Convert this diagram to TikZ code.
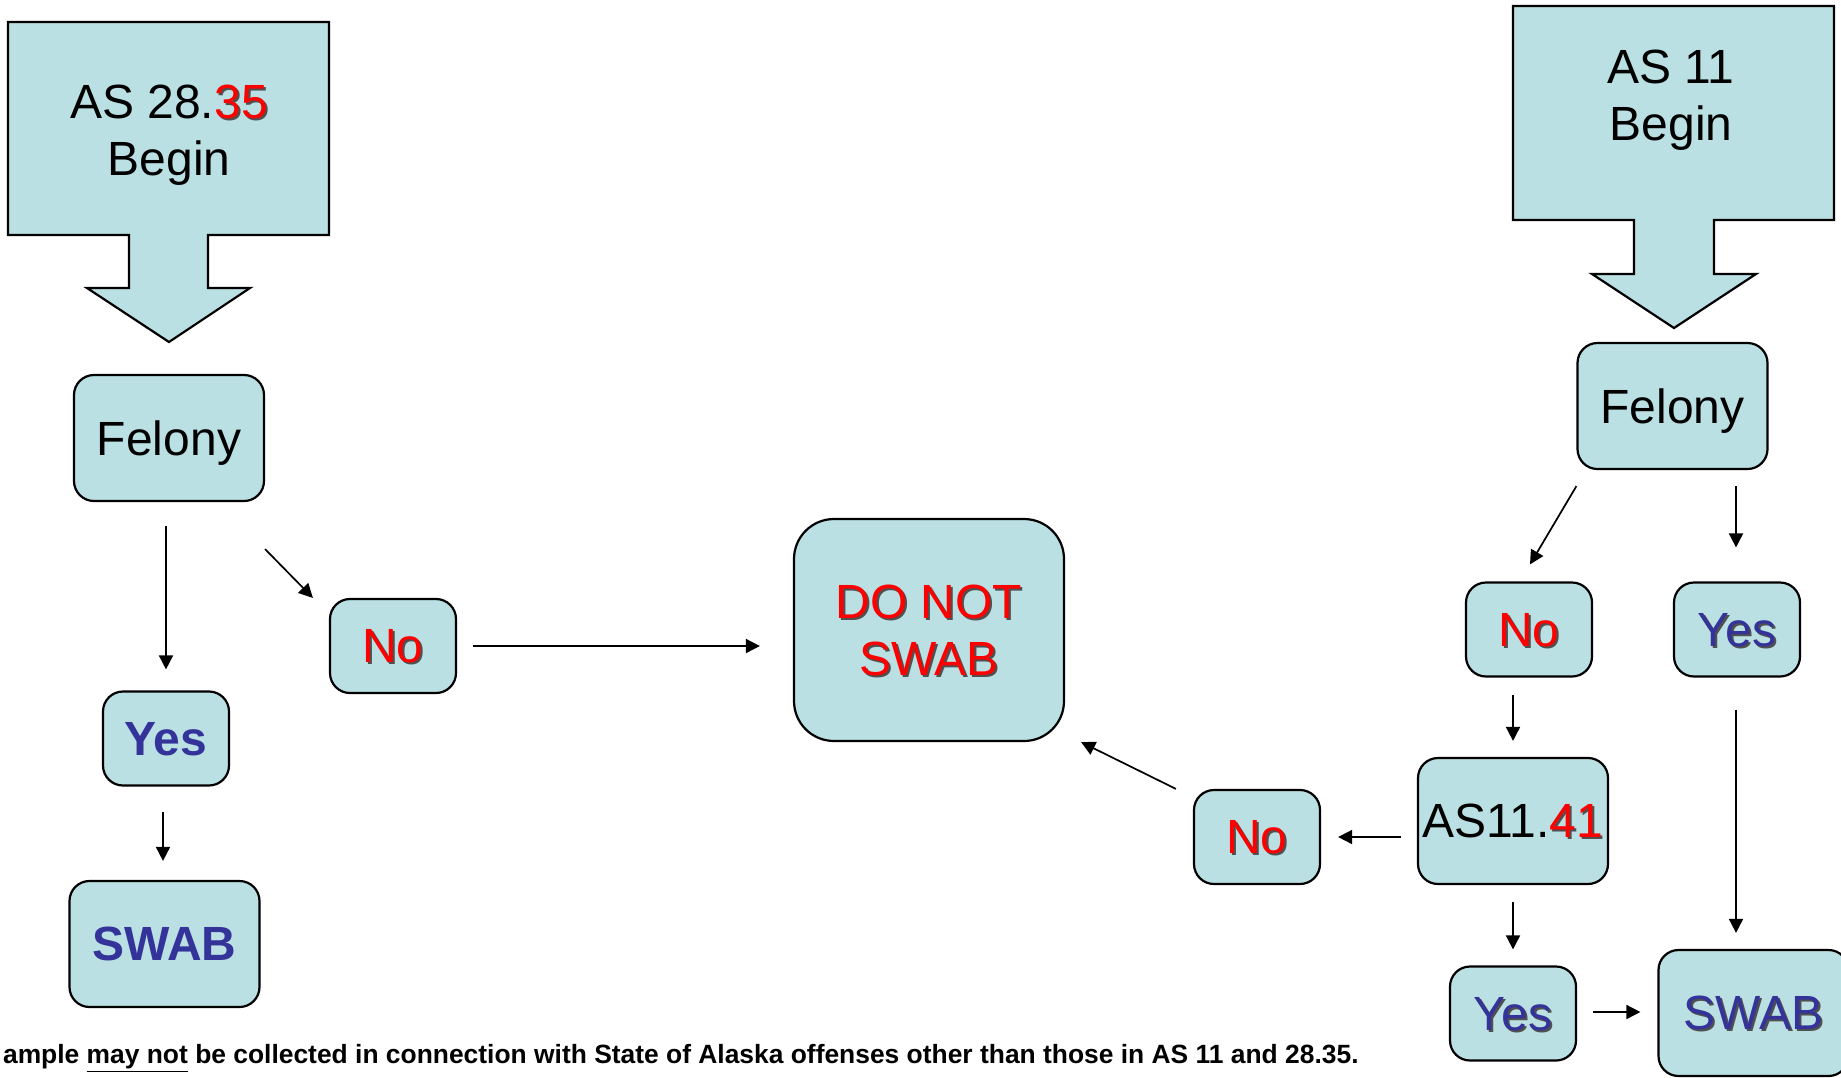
\documentclass[tikz,border=0pt]{standalone}
\usepackage{fontspec}
\setmainfont{Liberation Sans}
\usetikzlibrary{arrows.meta}

\definecolor{boxfill}{RGB}{186,224,227}
\definecolor{swabblue}{RGB}{51,51,153}
\definecolor{shadowgray}{RGB}{80,80,80}
\newcommand{\shadtext}[2]{\rlap{\kern1pt\raisebox{-1pt}{\textcolor{shadowgray}{#2}}}\textcolor{#1}{#2}}

\begin{document}
\begin{tikzpicture}[x=0.5pt, y=-0.5pt,
    every node/.style={font=\fontsize{24}{28.5}\selectfont},
    decision/.style={draw, line width=1.1pt, fill=boxfill, rounded corners=10pt,
      minimum width=95pt, minimum height=63pt, inner sep=1pt, text depth=0pt},
    answer/.style={decision, minimum width=63pt, minimum height=47pt},
    begin/.style={draw, line width=1.1pt, fill=boxfill},
    link/.style={line width=0.85pt, -{Triangle[length=7pt,width=7pt]}}]
   \useasboundingbox (0,0) rectangle (1841,1077);
   \clip (0,0) rectangle (1841,1077);

   % the two start boxes
   \draw[begin] (8,22) -- (329,22) -- (329,235) -- (208,235) -- (208,288) -- (250,288)
      -- (169,342) -- (87,288) -- (129,288) -- (129,235) -- (8,235) -- cycle;
   \draw[begin] (1513,6) -- (1834,6) -- (1834,220) -- (1714,220) -- (1714,274) -- (1756,274)
      -- (1674,328) -- (1592,274) -- (1634,274) -- (1634,220) -- (1513,220) -- cycle;
   \node[align=center, text depth=0pt] (BL) at (169,130) {AS 28.\shadtext{red}{35}\\Begin};
   \node[align=center, text depth=0pt] (BR) at (1671,95) {AS 11\\Begin};

   % left branch
   \node[decision] (FL) at (169,438) {Felony};
   \node[answer] (NL) at (393,646) {\shadtext{red}{No}};
   \node[answer] (YL) at (166,738.5) {\textbf{\textcolor{swabblue}{Yes}}};
   \node[decision] (SL) at (164.5,944) {\textbf{\textcolor{swabblue}{SWAB}}};

   \node[decision, minimum width=135pt, minimum height=111pt, rounded corners=20pt,
      align=center] (D) at (929,630) {\shadtext{red}{DO NOT}\\\shadtext{red}{SWAB}};

   % right branch
   \node[decision] (FR) at (1672.5,406) {Felony};
   \node[answer] (NR) at (1529,629.5) {\shadtext{red}{No}};
   \node[answer] (YR) at (1737,629.5) {\shadtext{swabblue}{Yes}};
   \node[decision] (A41) at (1513,821) {AS11.\shadtext{red}{41}};
   \node[answer] (NM) at (1257,837) {\shadtext{red}{No}};
   \node[answer] (YB) at (1513,1013.5) {\shadtext{swabblue}{Yes}};
   \node[decision] (SR) at (1753.5,1013) {\shadtext{swabblue}{SWAB}};

   \draw[link] ([shift={(-3,24)}]FL.south) to ([shift={(0,-21)}]YL.north);
   \draw[link] ([shift={(0,47)}]FL.south east) to ([shift={(-16,0)}]NL.north west);
   \draw[link] ([shift={(-3,25)}]YL.south) to ([shift={(-1.5,-19)}]SL.north);
   \draw[link] ([shift={(16,0)}]NL.east) to ([shift={(-33,16)}]D.west);
   \draw[link] ([shift={(0,16)}]FR.south west) to ([shift={(1,-17)}]NR.north);
   \draw[link] ([shift={(63.5,16)}]FR.south) to ([shift={(-1,-34)}]YR.north);
   \draw[link] ([shift={(-16,17)}]NR.south) to ([shift={(0,-16)}]A41.north);
   \draw[link] ([shift={(-16,16)}]A41.west) to ([shift={(17,0)}]NM.east);
   \draw[link] ([shift={(-17,0)}]NM.north west) to ([shift={(16,0)}]D.south east);
   \draw[link] ([shift={(0,17)}]A41.south) to ([shift={(0,-16)}]YB.north);
   \draw[link] ([shift={(16,-1.5)}]YB.east) to ([shift={(-17,-1)}]SR.west);
   \draw[link] ([shift={(-1,32)}]YR.south) to ([shift={(-17.5,-16)}]SR.north);

   \node[anchor=base east, inner sep=0pt, font=\fontsize{13.2}{16}\selectfont\bfseries] (N)
      at (1359,1063) {ample \underline{may not} be collected in connection with State of Alaska offenses other than those in AS 11 and 28.35.};
\end{tikzpicture}
\end{document}
